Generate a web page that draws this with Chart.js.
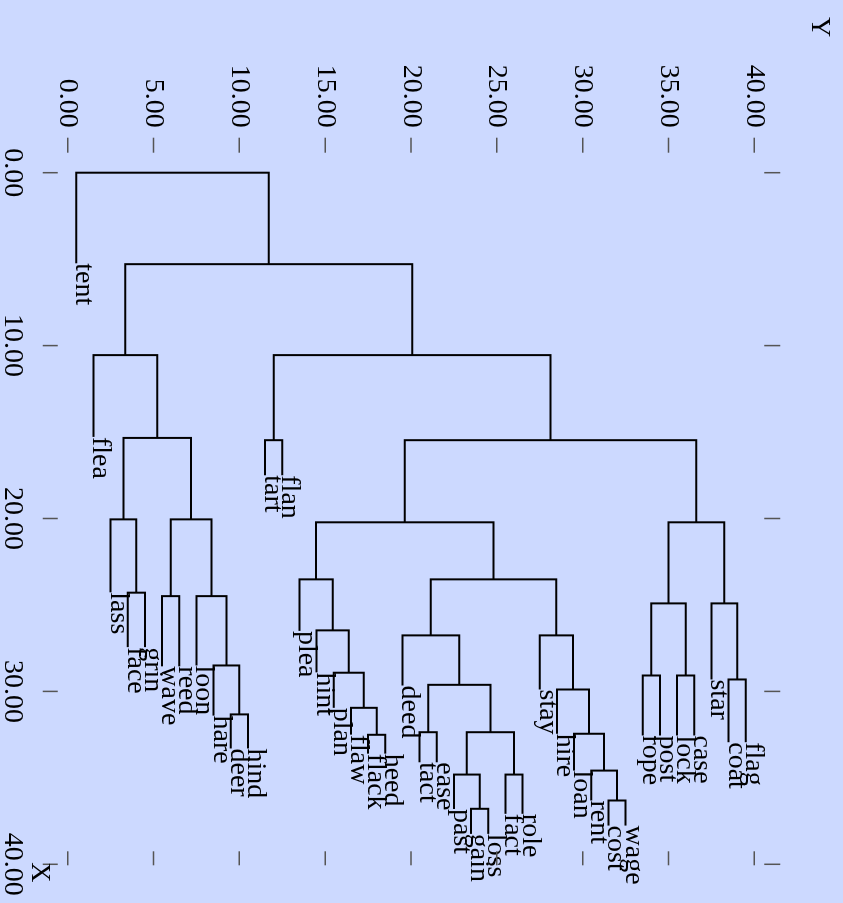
<!DOCTYPE html>
<html>
<head>
<meta charset="utf-8">
<title>Dendrogram</title>
<script src="https://cdn.jsdelivr.net/npm/chart.js@4/dist/chart.umd.min.js"></script>
<style>
  html, body { margin: 0; padding: 0; background: #ccd9ff; overflow: hidden; }
  #wrap {
    position: absolute; left: 0; top: 0;
    width: 903px; height: 843px;
    transform-origin: 0 0;
    transform: translate(843px, 0) rotate(90deg);
  }
</style>
</head>
<body>
<div id="wrap"><canvas id="chart" width="903" height="843"></canvas></div>
<script>
// leaves, in order along Y
const leafNames = ["tent", "flea", "lass", "face", "grin", "wave", "reed", "loon", "hare", "deer",
  "hind", "tart", "flan", "plea", "hint", "plan", "flaw", "flack", "heed", "deed",
  "tact", "ease", "past", "gain", "loss", "fact", "role", "stay", "hire", "loan",
  "rent", "cost", "wage", "rope", "post", "lock", "case", "star", "coat", "flag"];
const leafPos = [0.5, 1.5, 2.5, 3.5, 4.5, 5.5, 6.5, 7.5, 8.5, 9.5,
  10.5, 11.5, 12.5, 13.5, 14.5, 15.5, 16.5, 17.5, 18.5, 19.5,
  20.5, 21.5, 22.5, 23.5, 24.5, 25.5, 26.5, 27.5, 28.5, 29.5,
  30.5, 31.5, 32.5, 33.5, 34.5, 35.5, 36.5, 37.5, 38.5, 39.5];
const leafDepth = [5.24, 15.28, 24.27, 27.44, 27.44, 28.55, 28.55, 28.5, 31.4, 33.3,
  33.3, 17.5, 17.5, 26.5, 28.9, 30.95, 32.5, 33.6, 33.6, 29.66,
  34.1, 34.1, 36.8, 38.24, 38.24, 37.08, 37.08, 29.89, 32.45, 34.58,
  36.31, 37.76, 37.76, 32.55, 32.55, 32.55, 32.55, 29.31, 32.94, 32.94];

// internal nodes n0..n38 (n0 = root)
const nodeLeft = ["tent", "n2", "flea", "n12", "n5", "lass", "n8", "face", "wave", "loon",
  "hare", "deer", "tart", "n14", "n16", "n34", "plea", "n22", "hint", "plan",
  "flaw", "flack", "deed", "stay", "n25", "tact", "n27", "past", "fact", "gain",
  "hire", "loan", "rent", "cost", "n36", "star", "rope", "lock", "coat"];
const nodeRight = ["n1", "n3", "n4", "n13", "n6", "n7", "n9", "grin", "reed", "n10",
  "n11", "hind", "flan", "n15", "n17", "n35", "n18", "n23", "n19", "n20",
  "n21", "heed", "n24", "n30", "n26", "ease", "n28", "n29", "role", "loss",
  "n31", "n32", "n33", "wage", "n37", "n38", "post", "case", "flag"];
const nodeDepth = [0, 5.29, 10.55, 10.55, 15.34, 20.05, 20.05, 24.29, 24.49, 24.49,
  28.5, 31.33, 15.47, 15.47, 20.22, 20.22, 23.52, 23.52, 26.47, 28.92,
  30.95, 32.51, 26.76, 26.76, 29.62, 32.36, 32.36, 34.81, 34.81, 36.79,
  29.89, 32.45, 34.58, 36.31, 24.91, 24.91, 29.08, 29.08, 29.31];

const xTicks = [0, 10, 20, 30, 40];
const yTicks = [0, 5, 10, 15, 20, 25, 30, 35, 40];

const FONT = '28px "Liberation Serif", "Times New Roman", serif';

function depthOf(name) {
  if (/^n\d+$/.test(name)) return nodeDepth[+name.slice(1)];
  return leafDepth[leafNames.indexOf(name)];
}
function posOf(name) {
  if (/^n\d+$/.test(name)) {
    const i = +name.slice(1);
    return (posOf(nodeLeft[i]) + posOf(nodeRight[i])) / 2;
  }
  return leafPos[leafNames.indexOf(name)];
}

// one elbow per internal node
const datasets = nodeDepth.map((d, i) => {
  const a = nodeLeft[i], b = nodeRight[i];
  return {
    data: [
      { x: depthOf(a), y: posOf(a) },
      { x: d, y: posOf(a) },
      { x: d, y: posOf(b) },
      { x: depthOf(b), y: posOf(b) },
    ],
    showLine: true,
    clip: false,
    borderColor: "#000",
    borderWidth: 2,
    borderJoinStyle: "miter",
    pointRadius: 0,
    fill: false,
    tension: 0,
  };
});

const axesAndLabels = {
  id: "axesAndLabels",
  beforeDraw(chart) {
    const ctx = chart.ctx;
    ctx.save();
    ctx.fillStyle = "#ccd9ff";
    ctx.fillRect(0, 0, chart.width, chart.height);
    ctx.restore();
  },
  afterDraw(chart) {
    const ctx = chart.ctx;
    const xs = chart.scales.x, ys = chart.scales.y;
    const area = chart.chartArea;
    ctx.save();
    ctx.font = FONT;
    ctx.fillStyle = "#000";

    // leaf labels
    ctx.textAlign = "left";
    ctx.textBaseline = "alphabetic";
    leafNames.forEach((n, i) => {
      ctx.fillText(n, xs.getPixelForValue(leafDepth[i]), ys.getPixelForValue(leafPos[i]));
    });

    // tick marks
    ctx.strokeStyle = "#555";
    ctx.lineWidth = 1.5;
    ctx.beginPath();
    yTicks.forEach(v => {
      const py = ys.getPixelForValue(v);
      ctx.moveTo(area.left - 35, py); ctx.lineTo(area.left - 20, py);
      ctx.moveTo(area.right - 13, py); ctx.lineTo(area.right + 1, py);
    });
    xTicks.forEach(v => {
      const px = xs.getPixelForValue(v);
      ctx.moveTo(px, area.top - 26); ctx.lineTo(px, area.top - 10);
      ctx.moveTo(px, area.bottom + 10); ctx.lineTo(px, area.bottom + 25);
    });
    ctx.stroke();

    // tick labels
    ctx.textAlign = "right";
    ctx.textBaseline = "middle";
    yTicks.forEach(v => ctx.fillText(v.toFixed(2), area.left - 45, ys.getPixelForValue(v)));
    ctx.textAlign = "center";
    ctx.textBaseline = "alphabetic";
    xTicks.forEach(v => ctx.fillText(v.toFixed(2), xs.getPixelForValue(v), area.bottom + 63));

    // axis titles
    ctx.textAlign = "left";
    ctx.fillText("Y", 17, 31);
    ctx.fillText("X", area.right - 2, area.bottom + 36);
    ctx.restore();
  },
};

new Chart(document.getElementById("chart"), {
  type: "scatter",
  data: { datasets },
  options: {
    responsive: false,
    animation: false,
    layout: { padding: { left: 172.7, right: 38.7, top: 88.7, bottom: 67.7 } },
    plugins: { legend: { display: false }, tooltip: { enabled: false } },
    scales: {
      x: { type: "linear", min: 0, max: 40, display: false },
      y: { type: "linear", min: 0, max: 40, display: false },
    },
  },
  plugins: [axesAndLabels],
});
</script>
</body>
</html>
